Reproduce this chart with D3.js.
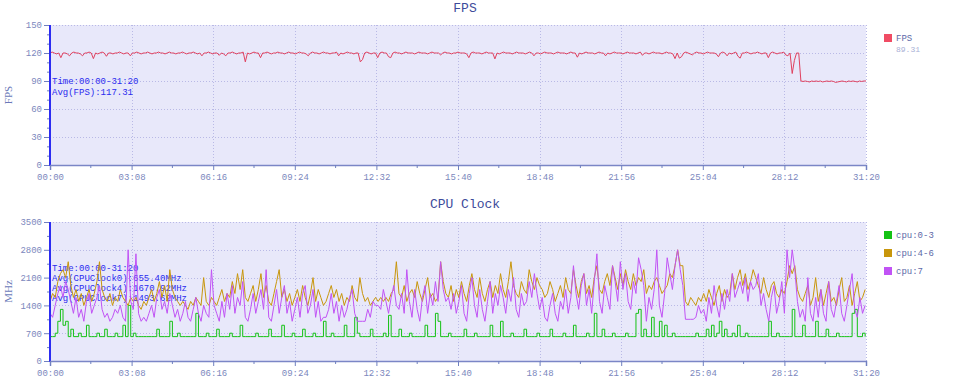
<!DOCTYPE html>
<html><head><meta charset="utf-8">
<script src="https://cdn.jsdelivr.net/npm/d3@7"></script>
<style>body{margin:0;background:#fff}svg{display:block}</style>
</head><body><svg id="c" width="960" height="391"></svg>
<script>
// ---------- data ----------
const timeTicks = [0,188,376,564,752,940,1128,1316,1504,1692,1880];
const timeTickLabels = ["00:00","03:08","06:16","09:24","12:32","15:40","18:48","21:56","25:04","28:12","31:20"];
const timeMinorTicks = [94,282,470,658,846,1034,1222,1410,1598,1786];
const fpsTicks = [0,30,60,90,120,150];
const fpsMinorTicks = [10,20,40,50,70,80,100,110,130,140];
const mhzTicks = [0,700,1400,2100,2800,3500];
const mhzMinorTicks = [350,1050,1750,2450,3150];

const FPS_STEP = 5;   // seconds between FPS samples
const CPU_STEP = 6;   // seconds between CPU samples

const fps = [
120,121,120,119,120,115,120,120,119,117,120,121,120,120,119,117,120,120,121,120,
114,120,119,120,121,120,116.5,120,120,119,120,120,121,120,119,120,120,117,120,120,
121,120,119,120,120,121,120,119,120,120,121,120,120,119,120,121,120,120,119,120,
120,121,120,119,120,120,121,120,119,120,117,120,120,121,120,119,120,120,117.5,120,
119,117,120,120,121,120,119,120,120,121,110.5,120,119,120,121,120,120,115,120,120,
121,120,119,120,120,121,120,120,119,120,121,120,120,119,120,121,120,120,119,117,
120,121,120,120,119,120,121,120,120,119,120,120,121,117,120,119,120,121,120,120,
119,120,120,110.5,113,120,121,120,119,120,120,115,120,121,120,120,116,115,120,121,
120,120,119,120,121,120,120,120,119,120,121,120,120,120,119,120,121,120,120,120,
118,120,121,120,120,119,120,120,121,120,120,120,119,115,120,121,120,120,120,119,
120,121,120,120,120,113.7,120,119,120,121,120,120,120,119,120,121,120,120,120,119,
120,121,120,117,120,120,119,120,121,120,120,120,119,120,121,120,120,120,119,120,
121,120,120,115.5,120,119,120,121,120,120,120,119,120,121,120,120,117,120,119,120,
121,120,120,120,119,120,121,120,120,120,119,120,121,117.5,120,120,119,120,121,120,
120,120,119,120,121,120,120,119,114,120,114.5,116,120,121,120,119,118,120,121,120,
120,119,120,121,120,120,120,119,116,120,121,120,117,120,119,120,121,116.5,114.5,120,
120,121,120,119,120,120,121,120,119,120,120,115,120,121,120,119,120,120,121,118,
117,120,98,112,120,120,90,89.5,90,89.5,89,90,89.5,90,89.5,90,89,89.5,90,89.5,
90,89.5,88.5,89,89.5,90,89.5,89,90,89.5,90,89.5,89,90,89.5,90,90];

const cpu0_3 = [
614,614,700,1000,1300,900,1000,614,800,614,614,700,614,614,900,614,614,614,700,614,614,800,614,614,614,700,614,614,900,614,1400,614,
700,614,614,614,614,614,614,614,614,800,614,614,614,614,1000,614,614,700,614,614,614,614,614,614,1200,614,614,614,700,614,614,
614,800,614,614,614,614,700,614,614,614,900,614,614,614,614,614,700,614,614,614,614,800,614,614,614,614,900,614,614,614,700,
614,614,614,800,614,614,614,700,614,614,614,1000,614,614,700,614,614,614,614,900,614,614,614,1100,700,614,614,614,614,800,614,614,
614,614,700,614,1150,614,614,614,800,614,614,614,700,614,614,614,614,614,900,614,614,614,1200,1000,614,614,614,700,614,614,614,
614,614,800,614,614,614,700,614,614,614,614,614,900,614,614,614,1000,614,614,614,700,614,614,614,614,800,614,614,614,614,700,614,
614,614,614,800,614,614,614,614,700,614,614,614,900,614,614,614,614,700,614,614,1200,614,614,800,614,614,614,700,614,614,614,
614,700,614,614,614,1200,1300,614,800,614,614,1100,614,614,1000,614,900,614,614,700,614,614,614,614,614,614,614,614,700,614,614,
614,800,614,900,614,700,1000,614,800,614,614,700,614,900,614,614,700,614,614,614,614,614,614,614,614,1000,614,614,700,614,614,
614,614,614,1300,614,614,614,900,614,614,614,614,1000,614,614,614,800,614,614,614,700,614,614,614,614,614,1200,1300,614,614,700,614];

const cpu4_6 = [
1500,1700,1600,2000,2200,2300,2100,2500,1900,1600,1800,1500,1700,1400,1600,1800,1500,1700,2000,2500,1800,1600,1500,1700,1400,1600,1500,1800,1600,1500,1400,1600,
1500,1600,1400,1300,1500,1400,1600,1800,1500,1700,2000,1600,1900,1500,2300,1800,1600,1500,1400,1500,1400,1300,1500,1400,1600,1500,1400,2100,1500,1400,1600,
1500,1400,1600,1800,1500,1700,1600,2000,1700,2200,1800,2300,1600,1500,1700,1900,1500,1800,2200,1600,1900,1500,1400,1700,2000,2300,1600,1800,1500,1700,1400,
1600,1800,1500,1900,1600,1400,1700,2100,1500,1800,1600,1400,1500,1700,1900,1600,1800,1500,1700,1400,1600,1500,1900,1600,1500,2100,1700,1500,1600,1400,1500,1600,
1500,1600,1500,1600,1500,1700,1800,2500,1700,1600,1900,1500,1700,1800,1600,2000,1700,1500,1800,2100,1600,1700,1500,1600,2500,2000,1700,1600,1900,1500,1800,
1600,2000,1700,1500,1900,2200,1800,1600,2100,1700,1500,1800,2000,1600,1900,1700,2200,1800,1600,2000,2500,1900,1700,1600,2000,1800,1700,2300,2000,1800,2100,1900,
1800,1600,1700,2000,1800,1500,1700,1900,1600,2100,1800,1700,2300,1900,1600,2000,2200,1700,1900,1600,2100,2400,1800,1700,2000,2200,1900,2400,2100,1800,2200,
1900,2300,2000,1800,2200,1900,2100,2000,2300,1700,1900,1800,2000,2100,1900,1700,1800,1900,2200,2100,2400,2800,2400,2400,1500,1400,1600,1500,1400,1600,1500,
1700,1500,1800,1600,1400,1700,1900,1500,1800,1600,1700,2200,1800,2100,2300,1900,2200,1800,2000,2300,2100,1900,1700,2100,1800,1600,1900,2000,1700,1600,1800,
1700,2000,2400,2200,2400,1800,1600,1500,1700,1900,1400,1600,2100,1500,1800,1400,1700,2000,1500,1600,1400,1800,2100,1500,1600,1900,1400,1700,2000,1500,1600,1800];

const cpu7 = [
1200,1100,1400,1700,1900,1600,2000,1800,1500,1200,1600,1100,1300,1000,1500,1700,1200,1400,1600,1900,1300,1100,1200,1000,1100,1300,1200,1400,1100,1000,2800,1500,
1300,2700,1200,1000,1100,1000,1200,1400,1100,1600,1800,1300,1500,1200,1700,1400,1100,1300,1000,1200,1500,1100,1000,1300,1600,1200,1000,1400,1200,1100,2300,
1400,1200,1000,1500,1100,1700,1300,1900,1200,1600,1400,2000,1100,1000,1300,1700,1200,1500,1800,1300,2300,1100,1000,1400,1800,1200,1600,1900,1200,1500,1000,
1300,1600,1100,1700,1900,1200,1400,1800,1100,1500,1000,1100,1100,1300,1700,1200,1500,1000,1400,1100,1300,1600,1800,1200,1000,1000,1000,1000,1300,1100,1500,1400,
1400,1300,1800,1500,1200,1600,1900,1400,1300,1700,1200,2300,1500,1100,1800,1300,1000,1600,1900,1200,1700,1400,2000,1500,2500,1800,1500,1600,1300,1700,1200,
1500,1900,1200,1000,1700,2100,1400,1100,1800,1300,1000,1500,2000,1200,1700,1400,1900,1600,1200,1800,1500,2100,1300,1100,1700,1400,1500,2000,1600,2200,1700,1300,
1600,1100,1000,1400,1700,1200,1000,1500,1300,1800,1200,1600,2400,1700,1300,1900,2200,1400,1800,1200,2000,2700,1500,1200,1900,1600,1300,2400,2000,1500,2500,
1800,2200,1500,1300,2000,1700,2600,2300,1900,1000,1600,1300,1800,2800,1400,1100,1700,2600,2200,1800,2400,2800,2300,1900,1050,1050,1050,1050,1100,1400,1200,
1300,1000,1600,1200,1900,1400,1100,1700,1300,1800,1500,2200,1600,1800,2000,1700,2100,1500,2000,1800,1900,2200,1400,1700,1300,1000,1600,1900,1200,1500,2000,
1200,2800,2100,2800,2300,1500,1100,1300,1000,2100,1200,1000,1600,1100,1800,1200,1000,2000,1300,1100,1500,1900,1200,1000,1400,1800,2200,1300,1100,1600,1200,1400];

const fpsLegend = {name: "FPS", color: "#f04c64", value: "89.31"};
const cpuSeries = [
  {name: "cpu:0-3", color: "#14c214", values: cpu0_3},
  {name: "cpu:4-6", color: "#c8960c", values: cpu4_6},
  {name: "cpu:7",   color: "#c153f5", values: cpu7}
];
const fpsNotes = ["Time:00:00-31:20", "Avg(FPS):117.31"];
const cpuNotes = ["Time:00:00-31:20", "Avg(CPUClock0):655.40MHz", "Avg(CPUClock4):1670.92MHz", "Avg(CPUClock7):1493.62MHz"];

// ---------- drawing ----------
const svg = d3.select("#c");
const MONO = "'Liberation Mono','DejaVu Sans Mono',monospace";
const L = 50, R = 866;
const x = d3.scaleLinear().domain([0, 1880]).range([L, R]);

function panel(o) {
  const y = d3.scaleLinear().domain([0, o.max]).range([o.bottom, o.top]);
  const g = svg.append("g");
  g.append("rect").attr("x", L).attr("y", o.top).attr("width", R - L).attr("height", o.bottom - o.top).attr("fill", "#e8e8fa");
  // grid
  g.selectAll(".hg").data(o.ticks.filter(d => d > 0)).join("line")
    .attr("x1", L).attr("x2", R).attr("y1", d => Math.round(y(d)) + 0.5).attr("y2", d => Math.round(y(d)) + 0.5)
    .attr("stroke", "#b9b9e6").attr("stroke-dasharray", "1,2");
  g.selectAll(".vg").data(timeTicks.slice(1)).join("line")
    .attr("x1", d => Math.round(x(d)) + 0.5).attr("x2", d => Math.round(x(d)) + 0.5).attr("y1", o.top).attr("y2", o.bottom)
    .attr("stroke", "#b9b9e6").attr("stroke-dasharray", "1,2");
  // title
  svg.append("text").attr("x", 465).attr("y", o.titleY).attr("text-anchor", "middle")
    .attr("font-family", MONO).attr("font-size", 13).attr("fill", "#3d4b9b").text(o.title);
  // y axis label
  svg.append("text").attr("transform", `translate(12,${(o.top + o.bottom) / 2}) rotate(-90)`)
    .attr("text-anchor", "middle").attr("font-family", "'Liberation Serif','DejaVu Serif',serif")
    .attr("font-size", 11).attr("fill", "#6a78b8").text(o.yLabel);
  // annotations (under lines)
  g.selectAll(".note").data(o.notes).join("text")
    .attr("x", 52).attr("y", (d, i) => o.noteY + i * o.noteDy)
    .attr("font-family", MONO).attr("font-size", 9).attr("fill", "#2b2bef").text(d => d);
  // lines
  o.series.forEach(s => {
    const line = d3.line().x((d, i) => x(i * s.step)).y(d => y(d)).curve(s.curve);
    g.append("path").datum(s.values).attr("d", line).attr("fill", "none")
      .attr("stroke", s.color).attr("stroke-width", 1).attr("stroke-linejoin", "round");
  });
  // left axis
  const ya = d3.axisLeft(y).tickValues(o.ticks).tickSize(6).tickPadding(2).tickFormat(d3.format("d"));
  const yag = svg.append("g").attr("transform", `translate(${L},0)`).call(ya);
  yag.select(".domain").remove();
  yag.selectAll(".tick line").attr("stroke", "#7080c0");
  yag.selectAll(".tick text").attr("font-family", MONO).attr("font-size", 9).attr("fill", "#7b87bd");
  svg.append("g").selectAll("line").data(o.minor).join("line")
    .attr("x1", L - 3).attr("x2", L).attr("y1", d => y(d) + 0.5).attr("y2", d => y(d) + 0.5).attr("stroke", "#7080c0");
  svg.append("line").attr("x1", L).attr("x2", L).attr("y1", o.top).attr("y2", o.bottom + 1)
    .attr("stroke", "#2c2cf2").attr("stroke-width", 2);
  // bottom axis
  const xa = d3.axisBottom(x).tickValues(timeTicks).tickSize(5).tickPadding(4)
    .tickFormat((d, i) => timeTickLabels[i]);
  const xag = svg.append("g").attr("transform", `translate(0,${o.bottom})`).call(xa);
  xag.select(".domain").attr("stroke", "#7b86c6").attr("stroke-width", 1.5);
  xag.selectAll(".tick line").attr("stroke", "#7080c0");
  xag.selectAll(".tick text").attr("font-family", MONO).attr("font-size", 9).attr("fill", "#7b87bd");
  svg.append("g").selectAll("line").data(timeMinorTicks).join("line")
    .attr("x1", d => x(d)).attr("x2", d => x(d)).attr("y1", o.bottom).attr("y2", o.bottom + 3).attr("stroke", "#7080c0");
  // legend
  const lg = svg.append("g");
  o.legend.forEach((s, i) => {
    const yy = o.legendY + i * 18;
    lg.append("rect").attr("x", 884).attr("y", yy).attr("width", 8).attr("height", 8).attr("fill", s.color);
    lg.append("text").attr("x", 896).attr("y", yy + 7).attr("font-family", MONO).attr("font-size", 9)
      .attr("fill", "#5d6aa8").text(s.name);
    if (s.value) lg.append("text").attr("x", 896).attr("y", yy + 18).attr("font-family", MONO).attr("font-size", 8)
      .attr("fill", "#a9b1d6").text(s.value);
  });
}

panel({
  top: 25, bottom: 165, max: 150, ticks: fpsTicks, minor: fpsMinorTicks,
  title: "FPS", titleY: 12, yLabel: "FPS",
  notes: fpsNotes, noteY: 84, noteDy: 11,
  series: [{values: fps, color: "#e0405e", step: FPS_STEP, curve: d3.curveLinear}],
  legend: [fpsLegend], legendY: 34
});
panel({
  top: 222, bottom: 361, max: 3500, ticks: mhzTicks, minor: mhzMinorTicks,
  title: "CPU Clock", titleY: 208, yLabel: "MHz",
  notes: cpuNotes, noteY: 271, noteDy: 10,
  series: cpuSeries.map((s, k) => ({values: s.values, color: s.color, step: CPU_STEP,
    curve: k === 0 ? d3.curveStepAfter : d3.curveLinear})),
  legend: cpuSeries, legendY: 231
});
</script>
</body></html>
